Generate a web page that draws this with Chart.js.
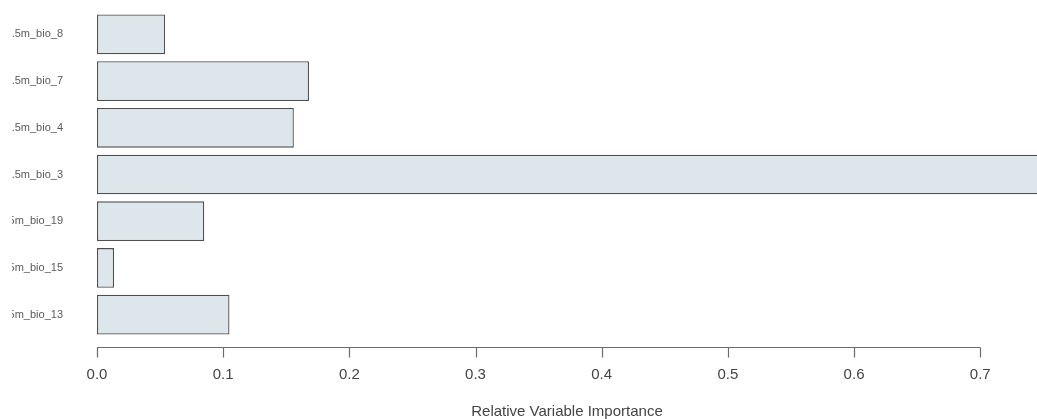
<!DOCTYPE html>
<html>
<head>
<meta charset="utf-8">
<script src="https://cdn.jsdelivr.net/npm/chart.js@4/dist/chart.umd.min.js"></script>
<style>
  html, body { margin: 0; padding: 0; background: #ffffff; }
  #frame { position: absolute; left: 12px; top: 0; width: 1025px; height: 419px; overflow: hidden; background: #ffffff; }
  #chart { position: absolute; left: -112px; top: 0; }
</style>
</head>
<body>
<div id="frame"><canvas id="chart" width="1137" height="419"></canvas></div>
<script>
// Predictor names (top to bottom) and their relative importance
const variables = [
  'wc2.1_2.5m_bio_8',
  'wc2.1_2.5m_bio_7',
  'wc2.1_2.5m_bio_4',
  'wc2.1_2.5m_bio_3',
  'wc2.1_2.5m_bio_19',
  'wc2.1_2.5m_bio_15',
  'wc2.1_2.5m_bio_13'
];
const importance = [0.054, 0.168, 0.156, 0.76, 0.085, 0.0135, 0.105];
const axisTicks = [0.0, 0.1, 0.2, 0.3, 0.4, 0.5, 0.6, 0.7];
const axisMax = 0.745;

const LABEL_SHIFT = 100; // part of the canvas hidden to the left of the frame

// Axis line with outward tick marks, set slightly below the plotting region
const baseAxis = {
  id: 'baseAxis',
  afterDraw(chart) {
    const x = chart.scales.x;
    const ctx = chart.ctx;
    const yLine = chart.chartArea.bottom + 9.5;
    ctx.save();
    ctx.strokeStyle = '#6b6b6b';
    ctx.lineWidth = 1.2;
    ctx.beginPath();
    ctx.moveTo(x.getPixelForValue(axisTicks[0]), yLine);
    ctx.lineTo(x.getPixelForValue(axisTicks[axisTicks.length - 1]), yLine);
    axisTicks.forEach(v => {
      const px = Math.round(x.getPixelForValue(v)) + 0.5;
      ctx.moveTo(px, yLine);
      ctx.lineTo(px, yLine + 10);
    });
    ctx.stroke();
    ctx.restore();
  }
};

new Chart(document.getElementById('chart'), {
  type: 'bar',
  data: {
    labels: variables,
    datasets: [{
      data: importance,
      backgroundColor: '#dde6ea',
      borderColor: '#4f4f4f',
      borderWidth: 1.3,
      borderSkipped: false,
      categoryPercentage: 1.0,
      barPercentage: 0.85
    }]
  },
  options: {
    indexAxis: 'y',
    responsive: false,
    animation: false,
    devicePixelRatio: 1,
    layout: { padding: { top: 11, right: 0, bottom: 0, left: 0 } },
    plugins: {
      legend: { display: false },
      tooltip: { enabled: false }
    },
    scales: {
      y: {
        grid: { display: false, drawTicks: false },
        border: { display: false },
        ticks: {
          padding: 34,
          color: '#5a5a5a',
          font: { family: 'Liberation Sans, Arial, sans-serif', size: 11 }
        },
        afterFit(scale) {
          scale.width = 97 + LABEL_SHIFT;
          scale.paddingTop = 0;
          scale.paddingBottom = 0;
        }
      },
      x: {
        min: 0,
        max: axisMax,
        grid: { display: false, drawTicks: false, tickLength: 0 },
        border: { display: false },
        afterBuildTicks(scale) { scale.ticks = axisTicks.map(v => ({ value: v })); },
        afterFit(scale) { scale.height = 81; },
        ticks: {
          includeBounds: false,
          padding: 28,
          color: '#444444',
          font: { family: 'Liberation Sans, Arial, sans-serif', size: 15 },
          callback: (v) => Number(v).toFixed(1)
        },
        title: {
          display: true,
          text: 'Relative Variable Importance',
          color: '#444444',
          padding: 0,
          font: { family: 'Liberation Sans, Arial, sans-serif', size: 15, lineHeight: 1 }
        }
      }
    }
  },
  plugins: [baseAxis]
});
</script>
</body>
</html>
